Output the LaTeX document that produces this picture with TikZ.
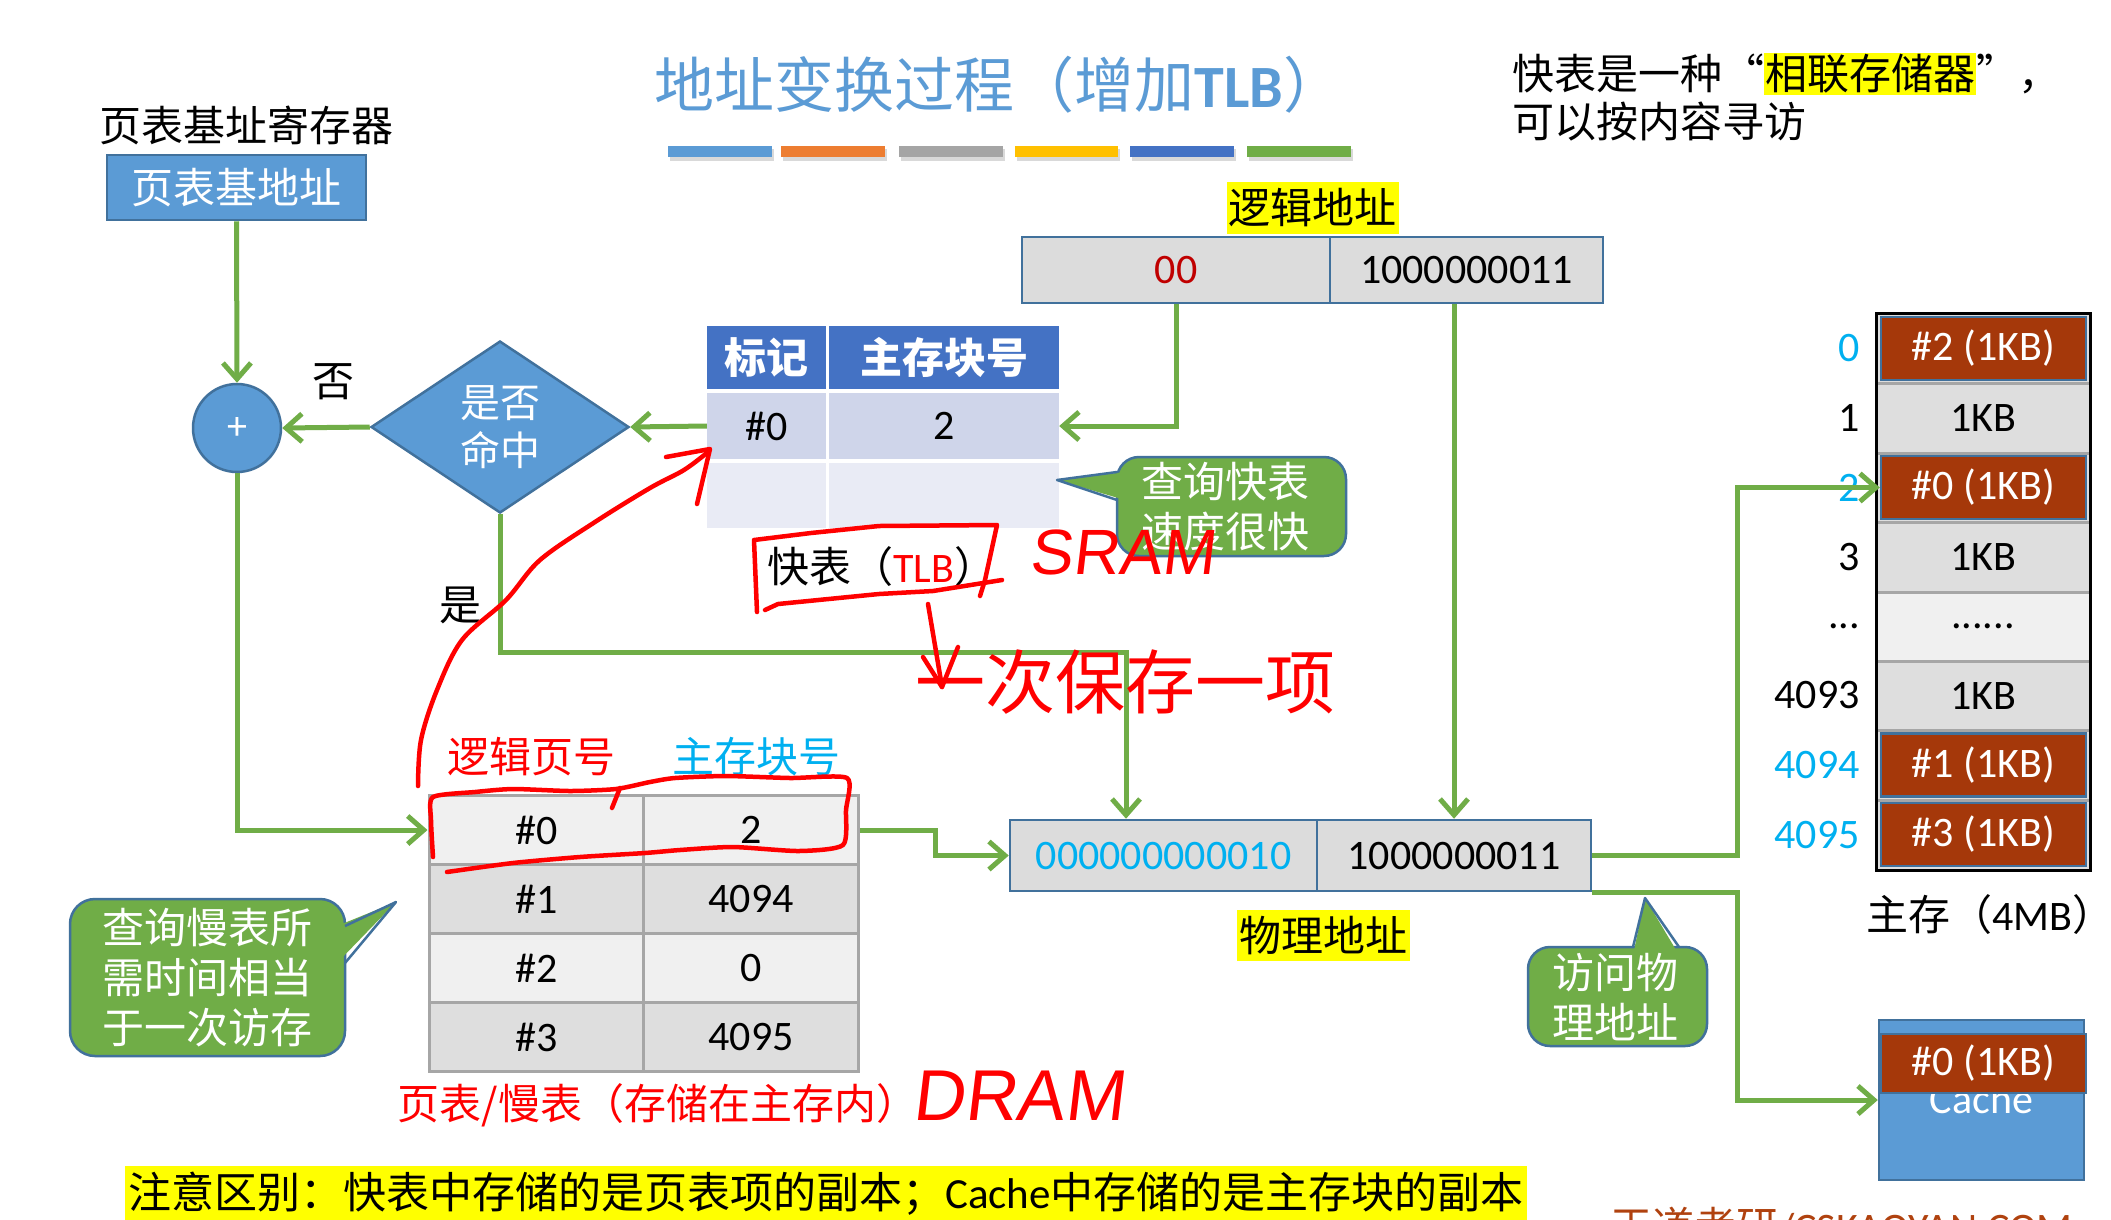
\documentclass[tikz,border=0pt]{standalone}
\usepackage{fontspec}
\setmainfont{Carlito}
\newfontfamily\cjk{Noto Sans CJK SC}
\newfontfamily\hand[FakeSlant=0.12]{Liberation Sans}
\usetikzlibrary{shapes.geometric,arrows.meta}
\definecolor{pblue}{HTML}{5B9BD5}
\definecolor{pbord}{HTML}{41719C}
\definecolor{pgreen}{HTML}{70AD47}
\definecolor{hdr}{HTML}{4472C4}
\definecolor{tlbA}{HTML}{CFD5EA}
\definecolor{tlbB}{HTML}{E9EBF5}
\definecolor{brick}{HTML}{A5380A}
\definecolor{cyanl}{HTML}{00B0F0}
\definecolor{gcell}{HTML}{DEDEDE}
\definecolor{lcell}{HTML}{F0F0F0}
\definecolor{gsep}{HTML}{A6A6A6}
\definecolor{dred}{HTML}{C00000}
\definecolor{hl}{HTML}{FFFF00}
\definecolor{porange}{HTML}{ED7D31}
\definecolor{pgray}{HTML}{A5A5A5}
\definecolor{pgold}{HTML}{FFC000}
\definecolor{addrfill}{HTML}{DCDCDC}
\definecolor{wdbrown}{HTML}{B0420F}
\newcommand\fsz[2]{\fontsize{#1}{#2}\selectfont}
\begin{document}
\begin{tikzpicture}[x=1pt,y=-1pt,
  txt/.style={inner sep=0pt, font=\fsz{42}{50}},
  ctxt/.style={inner sep=0pt, font=\cjk\fsz{42}{50}},
  bluebox/.style={rectangle, fill=pblue, draw=pbord, line width=2.5pt, inner sep=0pt, text=white},
  tcell/.style={rectangle, inner sep=0pt, font=\fsz{42}{50}},
  hcell/.style={rectangle, inner sep=0pt, fill=hdr, text=white, font=\cjk\bfseries\fsz{42}{50}},
  addr/.style={rectangle, fill=addrfill, draw=pbord, line width=2.5pt, inner sep=0pt, font=\fsz{42}{50}, minimum height=66},
  scell/.style={rectangle, draw=gsep, line width=3pt, inner sep=0pt, font=\fsz{42}{50}, minimum width=215, minimum height=69},
  mcell/.style={rectangle, inner sep=0pt, font=\fsz{42}{50}, minimum width=214, minimum height=69},
  bcell/.style={rectangle, fill=brick, draw=pbord, line width=2.5pt, inner sep=0pt, text=white, font=\fsz{42}{50}, minimum width=205, minimum height=63},
  rowlab/.style={anchor=east, inner sep=0pt, font=\fsz{42}{50}},
  hlbox/.style={rectangle, fill=hl, inner sep=2pt, font=\cjk\fsz{42}{50}},
  garrow/.style={draw=pgreen, line width=5pt, -{Straight Barb[length=16pt,width=28pt]}},
  callout/.style={fill=pgreen, draw=pbord, line width=2.5pt, rounded corners=22pt},
  calltext/.style={inner sep=0pt, text=white, align=center, font=\cjk\fsz{42}{50}},
  redpen/.style={draw=red, line width=4.5pt, line cap=round, line join=round},
  hw/.style={inner sep=0pt, text=red}
]
\useasboundingbox (0,0) rectangle (2111,1219);
\clip (0,0) rectangle (2111,1219);
\fill[white] (0,0) rectangle (2111,1219);

% ---------- title ----------
\node[inner sep=0pt, font=\fsz{60}{62}, text=pblue] (title) at (999,85) {{\cjk 地址变换过程（增加}\textbf{TLB}{\cjk ）}};
\foreach \a/\b/\c in {668/772/pblue, 781/885/porange, 899/1003/pgray, 1015/1118/pgold, 1130/1234/hdr, 1247/1351/pgreen} {
  \fill[black!15] (\a+2,149) rectangle (\b+2,161);
  \fill[\c] (\a,146) rectangle (\b,157);
}

% ---------- top right remark ----------
\node[ctxt, anchor=west] (tip1) at (1512,74) {快表是一种“{\setlength\fboxsep{1pt}\colorbox{hl}{相联存储器}}”，};
\node[ctxt, anchor=west] (tip2) at (1512,122) {可以按内容寻访};

% ---------- page table base register ----------
\node[ctxt] (reglab) at (246,125) {页表基址寄存器};
\node[bluebox, minimum width=259, minimum height=65, font=\cjk\fsz{42}{50}] (ptbr) at (236.5,187.5) {页表基地址};
\node[circle, fill=pblue, draw=pbord, line width=2.5pt, minimum size=88, inner sep=0pt, text=white, font=\fsz{40}{40}] (circ) at (237,428) {+};
\node[diamond, fill=pblue, draw=pbord, line width=2.5pt, minimum width=258, minimum height=172, inner sep=0pt, text=white, align=center, font=\cjk\fsz{40}{48}] (hit) at (500,427) {是否\\命中};
\node[ctxt] (nolab) at (333,382) {否};
\node[ctxt] (yeslab) at (460,605) {是};

% ---------- TLB ----------
\node[hcell, minimum width=119, minimum height=63] (h1) at (766.5,357.5) {标记};
\node[hcell, minimum width=230, minimum height=63] (h2) at (944,357.5) {主存块号};
\node[tcell, fill=tlbA, minimum width=119, minimum height=66] (r1a) at (766.5,426) {\#0};
\node[tcell, fill=tlbA, minimum width=230, minimum height=66] (r1b) at (944,426) {2};
\node[tcell, fill=tlbB, minimum width=119, minimum height=65] (r2a) at (766.5,495.5) {};
\node[tcell, fill=tlbB, minimum width=230, minimum height=65] (r2b) at (944,495.5) {};
\node[txt] (tlblab) at (882,567) {{\cjk 快表（}\textcolor{red}{TLB}{\cjk ）}};

% ---------- logical address ----------
\node[hlbox, minimum width=171, minimum height=52] (lalab) at (1312.5,208) {逻辑地址};
\node[addr, minimum width=308, text=dred] (la) at (1176,270) {00};
\node[addr, minimum width=273] (lr) at (1466.5,270) {1000000011};

% ---------- callout: TLB fast ----------
\path[callout] (1117,457) rectangle (1346,556);
\fill[pgreen] (1125,472) -- (1057,480) -- (1125,500) -- cycle;
\draw[pbord, line width=2.5pt, line join=round] (1117,472) -- (1057,480) -- (1117,500);
\node[calltext] (c1txt) at (1225,507) {查询快表\\速度很快};

% ---------- slow page table ----------
\node[ctxt, text=red] (hd1) at (531.5,757) {逻辑页号};
\node[ctxt, text=cyanl] (hd2) at (756.5,757) {主存块号};
\node[scell, fill=lcell] (s0a) at (536.5,830) {\#0};
\node[scell, fill=lcell] (s0b) at (751,830) {2};
\node[scell, fill=gcell] (s1a) at (536.5,899) {\#1};
\node[scell, fill=gcell] (s1b) at (751,899) {4094};
\node[scell, fill=lcell] (s2a) at (536.5,968) {\#2};
\node[scell, fill=lcell] (s2b) at (751,968) {0};
\node[scell, fill=gcell] (s3a) at (536.5,1037) {\#3};
\node[scell, fill=gcell] (s3b) at (751,1037) {4095};
\node[ctxt, text=red] (ptlab) at (658,1105) {页表/慢表（存储在主存内）};

% ---------- callout: slow table ----------
\path[callout, rounded corners=25pt] (70,899) rectangle (345,1056);
\fill[pgreen] (337,926) -- (396,902) -- (337,963) -- cycle;
\draw[pbord, line width=2.5pt, line join=round] (345,926) -- (396,902) -- (345,963);
\node[calltext] (c2txt) at (207.5,978) {查询慢表所\\需时间相当\\于一次访存};

% ---------- physical address ----------
\node[addr, minimum width=307, minimum height=71, text=cyanl] (pl) at (1163.5,855.5) {000000000010};
\node[addr, minimum width=274, minimum height=71] (pr) at (1454,855.5) {1000000011};
\node[hlbox, minimum width=173, minimum height=51] (palab) at (1323.5,935.5) {物理地址};

% ---------- callout: access ----------
\path[callout] (1528,947) rectangle (1707,1046);
\fill[pgreen] (1633,955) -- (1645,898) -- (1679,955) -- cycle;
\draw[pbord, line width=2.5pt, line join=round] (1633,947) -- (1645,898) -- (1679,947);
\node[calltext] (c3txt) at (1615,997) {访问物\\理地址};

% ---------- main memory ----------
\fill[gcell] (1876,313) rectangle (2090,870);
\fill[lcell] (1876,592) rectangle (2090,661);
\foreach \yy in {383,453,522,592,661,730,800} \draw[gsep, line width=3pt] (1876,\yy) -- (2090,\yy);
\node[mcell] (m1) at (1983,418) {1KB};
\node[mcell] (m3) at (1983,557) {1KB};
\node[mcell] (m4) at (1983,626.5) {......};
\node[mcell] (m5) at (1983,695.5) {1KB};
\node[bcell] (m0) at (1983.5,348.5) {\#2 (1KB)};
\node[bcell] (m2) at (1983.5,487.5) {\#0 (1KB)};
\node[bcell] (m6) at (1983.5,765) {\#1 (1KB)};
\node[bcell] (m7) at (1983.5,834.5) {\#3 (1KB)};
\draw[black, line width=3pt] (1876,313) rectangle (2090,870);
\node[rowlab, text=cyanl] (l0) at (1860,348.5) {0};
\node[rowlab] (l1) at (1860,418) {1};
\node[rowlab, text=cyanl] (l2) at (1860,487.5) {2};
\node[rowlab] (l3) at (1860,557) {3};
\node[rowlab] (l4) at (1860,626.5) {...};
\node[rowlab] (l5) at (1860,695.5) {4093};
\node[rowlab, text=cyanl] (l6) at (1860,765) {4094};
\node[rowlab, text=cyanl] (l7) at (1860,834.5) {4095};
\node[txt, anchor=west] (memlab) at (1866,915) {{\cjk 主存（}4MB{\cjk ）}};

% ---------- cache ----------
\node[bluebox, minimum width=205, minimum height=160] (cache) at (1981.5,1100) {};
\node[anchor=base, inner sep=0pt, text=white, font=\fsz{42}{50}] (cachetxt) at (1981.5,1113) {Cache};
\node[bcell, minimum height=59] (c0) at (1983.5,1063.5) {\#0 (1KB)};

% ---------- bottom notes ----------
\node[anchor=west, fill=hl, inner sep=3pt, minimum height=56, font=\fsz{43}{50}] (note) at (125,1194) {{\cjk 注意区别：快表中存储的是页表项的副本；}Cache{\cjk 中存储的是主存块的副本}};
\node[anchor=base west, inner sep=0pt, text=wdbrown, font=\fsz{42}{50}] (brand) at (1610,1242) {{\cjk 王道考研}/CSKAOYAN.COM};

% ---------- connectors ----------
\coordinate (hitc) at (1126,652);
\coordinate (jog) at (935,843);
\coordinate (mx) at (1737,700);
\coordinate (mx2) at (1737,1000);
\draw[garrow] (ptbr.south) -- (circ.north);
\draw[garrow] (hit.west) -- (circ.east);
\draw[garrow] (r1a.west) -- (hit.east);
\draw[garrow] (la.south) |- (r1b.east);
\draw[garrow] (lr.south -| pr.north) -- (pr.north);
\draw[garrow] (hit.south) |- (hitc) -- (hitc |- pl.north);
\draw[garrow] (circ.south) |- (s0a.west);
\draw[garrow] (s0b.east) -| (jog) |- (pl.west);
\draw[garrow] (pr.east) -| (mx) |- (m2.west);
\draw[garrow] (pr.south east) -| (mx2) |- (cache.west);

% ---------- hand-written red annotations ----------
\draw[redpen] plot[smooth, tension=0.55] coordinates {(418,786) (421,740) (437,690) (462,640) (506,600) (540,560) (595,522) (650,488) (684,470) (708,452)};
\draw[redpen] (666,457) -- (710,449) -- (697,504);
\draw[redpen] (757,612) -- (754,540) -- (811,533) -- (879,526) -- (997,525) -- (985,580) -- (980,596);
\draw[redpen] (1002,580) -- (933,591) -- (879,594) -- (778,604) -- (765,610);
\draw[redpen] (928,604) -- (942,687);
\draw[redpen] (923,657) -- (942,687) -- (958,647);
\draw[redpen] plot[smooth, tension=0.4] coordinates {(433,857) (431,820) (433,797) (475,792) (513,789) (570,791) (616,789) (650,782) (675,778) (726,776) (790,778) (847,778) (846,810) (843,845) (799,851) (733,847) (680,850) (645,853) (580,857) (513,863) (447,872)};
\draw[redpen] (620,788) -- (612,808);
\node[hw, font=\hand\fsz{64}{64}] (sram) at (1122,552) {SRAM};
\node[hw, font=\cjk\fsz{70}{70}] (save) at (1125,682) {一次保存一项};
\node[hw, font=\hand\fsz{72}{72}] (dram) at (1018,1096) {DRAM};
\end{tikzpicture}
\end{document}
